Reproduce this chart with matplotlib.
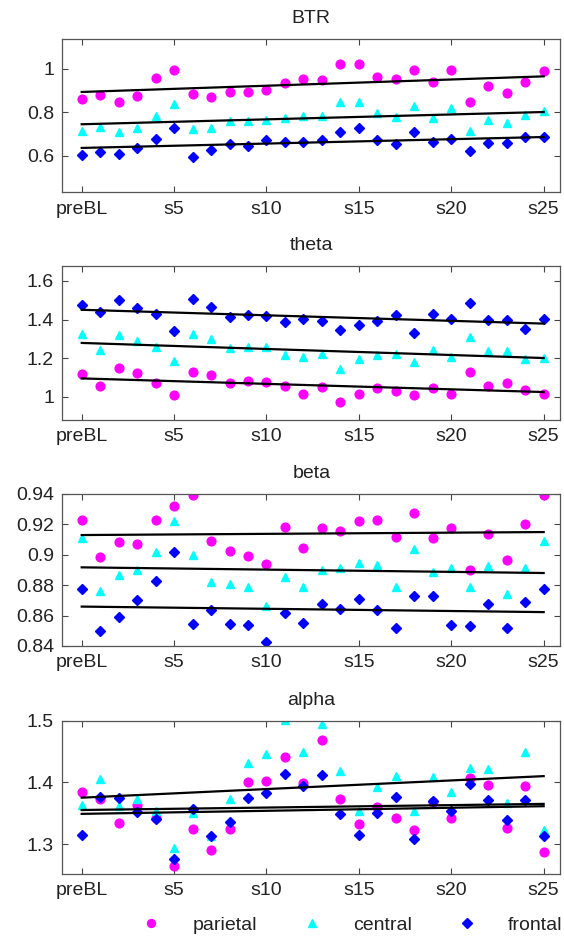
import numpy as np
import matplotlib
matplotlib.use("Agg")
import matplotlib.pyplot as plt

plt.rcParams["font.family"] = ["Liberation Sans", "DejaVu Sans"]
plt.rcParams["font.size"] = 14

sessions = np.arange(26)
tick_pos = [0, 5, 10, 15, 20, 25]
tick_labels = ["preBL", "s5", "s10", "s15", "s20", "s25"]

# BTR
btr_parietal = [0.863, 0.878, 0.846, 0.873, 0.960, 0.995, 0.885, 0.870, 0.892, 0.895,
                0.902, 0.933, 0.954, 0.950, 1.021, 1.024, 0.963, 0.954, 0.995, 0.939,
                0.997, 0.846, 0.919, 0.890, 0.939, 0.989]
btr_central = [0.716, 0.731, 0.708, 0.728, 0.783, 0.838, 0.721, 0.728, 0.759, 0.759,
               0.766, 0.774, 0.785, 0.785, 0.847, 0.849, 0.797, 0.779, 0.827, 0.774,
               0.818, 0.716, 0.766, 0.751, 0.786, 0.808]
btr_frontal = [0.605, 0.618, 0.608, 0.634, 0.675, 0.727, 0.594, 0.628, 0.652, 0.643,
               0.673, 0.661, 0.664, 0.673, 0.710, 0.727, 0.673, 0.655, 0.710, 0.664,
               0.678, 0.620, 0.660, 0.657, 0.687, 0.684]

# theta
theta_parietal = [1.118, 1.055, 1.149, 1.121, 1.069, 1.010, 1.126, 1.114, 1.071, 1.080,
                  1.078, 1.054, 1.016, 1.048, 0.971, 1.016, 1.045, 1.029, 1.010, 1.045,
                  1.016, 1.126, 1.055, 1.071, 1.036, 1.012]
theta_central = [1.325, 1.240, 1.318, 1.290, 1.256, 1.183, 1.327, 1.297, 1.254, 1.259,
                 1.258, 1.214, 1.207, 1.220, 1.145, 1.194, 1.214, 1.221, 1.178, 1.242,
                 1.206, 1.311, 1.235, 1.235, 1.195, 1.202]
theta_frontal = [1.474, 1.439, 1.503, 1.462, 1.429, 1.342, 1.506, 1.463, 1.411, 1.425,
                 1.420, 1.385, 1.404, 1.392, 1.344, 1.372, 1.391, 1.424, 1.332, 1.430,
                 1.401, 1.484, 1.398, 1.398, 1.351, 1.401]

# beta
beta_parietal = [0.9226, 0.8985, 0.9086, 0.9073, 0.9226, 0.9319, 0.9391, 0.9090, 0.9026, 0.8991,
                 0.8941, 0.9185, 0.9046, 0.9178, 0.9158, 0.9220, 0.9229, 0.9114, 0.9275, 0.9108,
                 0.9174, 0.8899, 0.9134, 0.8967, 0.9202, 0.9391]
beta_central = [0.9110, 0.8760, 0.8868, 0.8903, 0.9018, 0.9224, 0.8998, 0.8824, 0.8807, 0.8785,
                0.8662, 0.8853, 0.8785, 0.8899, 0.8912, 0.8945, 0.8936, 0.8785, 0.9040, 0.8890,
                0.8910, 0.8785, 0.8927, 0.8741, 0.8912, 0.9090]
beta_frontal = [0.8778, 0.8497, 0.8591, 0.8703, 0.8826, 0.9020, 0.8547, 0.8640, 0.8545, 0.8538,
                0.8429, 0.8615, 0.8552, 0.8675, 0.8646, 0.8708, 0.8640, 0.8519, 0.8732, 0.8732,
                0.8538, 0.8534, 0.8675, 0.8521, 0.8690, 0.8778]

# alpha
alpha_parietal = [1.3837, 1.3734, 1.3333, 1.3626, 1.3415, 1.2650, 1.3236, 1.2911, 1.3247, 1.4000,
                  1.4027, 1.4417, 1.3995, 1.4683, 1.3724, 1.3328, 1.3604, 1.3425, 1.3230, 1.3675,
                  1.3425, 1.4076, 1.3957, 1.3268, 1.3935, 1.2878]
alpha_central = [1.3631, 1.4060, 1.3615, 1.3729, 1.3539, 1.2943, 1.3496, 1.3127, 1.3724, 1.4314,
                 1.4461, 1.5014, 1.4493, 1.4943, 1.4179, 1.3539, 1.3919, 1.4098, 1.3528, 1.4081,
                 1.3837, 1.4238, 1.4211, 1.3659, 1.4488, 1.3220]
alpha_frontal = [1.3154, 1.3767, 1.3740, 1.3512, 1.3398, 1.2759, 1.3561, 1.3138, 1.3360, 1.3751,
                 1.3821, 1.4141, 1.3946, 1.4114, 1.3485, 1.3154, 1.3501, 1.3767, 1.3089, 1.3702,
                 1.3534, 1.3978, 1.3718, 1.3393, 1.3718, 1.3133]

panels = [
    ("BTR", btr_parietal, btr_central, btr_frontal, (0.431, 1.138), [0.6, 0.8, 1.0], ["0.6", "0.8", "1"]),
    ("theta", theta_parietal, theta_central, theta_frontal, (0.879, 1.679), [1.0, 1.2, 1.4, 1.6], ["1", "1.2", "1.4", "1.6"]),
    ("beta", beta_parietal, beta_central, beta_frontal, (0.84, 0.94), [0.84, 0.86, 0.88, 0.90, 0.92, 0.94], ["0.84", "0.86", "0.88", "0.9", "0.92", "0.94"]),
    ("alpha", alpha_parietal, alpha_central, alpha_frontal, (1.2514, 1.5), [1.3, 1.4, 1.5], ["1.3", "1.4", "1.5"]),
]

W, H = 564, 936
fig = plt.figure(figsize=(W / 100, H / 100), dpi=100)

# axes boxes in pixels: (top, bottom)
boxes = [(39, 192.3), (265.7, 420), (494, 646), (720.7, 874)]
left, right = 62.3, 560.3

handles = None
for (title, par, cen, fro, ylim, yt, ytl), (top, bot) in zip(panels, boxes):
    ax = fig.add_axes([left / W, 1 - bot / H, (right - left) / W, (bot - top) / H])
    h1, = ax.plot(sessions, par, "o", color="#ff00ff", markersize=6.3, label="parietal")
    h2, = ax.plot(sessions, cen, "^", color="#00ffff", markersize=6.3, label="central")
    h3, = ax.plot(sessions, fro, "D", color="#0000ff", markersize=5.2, label="frontal")
    handles = [h1, h2, h3]
    # linear fit per region
    for series in (par, cen, fro):
        k, b = np.polyfit(sessions, series, 1)
        ax.plot([sessions[0], sessions[-1]], [k * sessions[0] + b, k * sessions[-1] + b],
                color="black", lw=1.6)
    ax.set_xlim(-1.05, 25.9)
    ax.set_ylim(*ylim)
    ax.set_xticks(tick_pos)
    ax.set_xticklabels(tick_labels)
    ax.set_yticks(yt)
    ax.set_yticklabels(ytl)
    ax.tick_params(direction="in", top=True, right=True, length=4, width=0.8,
                   color="#444444", labelcolor="#222222", pad=6)
    for sp in ax.spines.values():
        sp.set_color("#555555")
        sp.set_linewidth(0.9)
    ax.set_title(title, fontsize=14, pad=11.5, color="#222222")

fig.legend(handles=handles, loc="center left", bbox_to_anchor=(132 / W, 1 - 925 / H),
           ncol=3, frameon=False, borderpad=0, handlelength=1.0, handletextpad=1.6,
           columnspacing=2.35, markerscale=0.9, fontsize=14, labelcolor="#222222")

fig.savefig("out.png", dpi=100)
